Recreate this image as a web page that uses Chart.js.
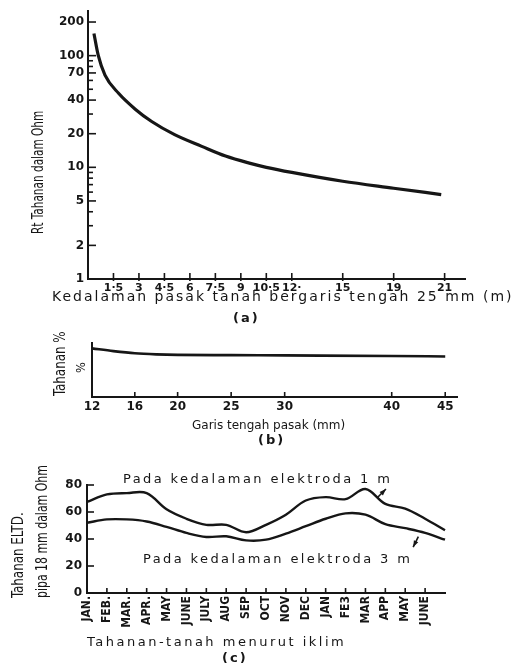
<!DOCTYPE html>
<html>
<head>
<meta charset="utf-8">
<title>Tahanan pasak tanah</title>
<script src="https://cdn.jsdelivr.net/npm/chart.js@4.4.1/dist/chart.umd.min.js"></script>
<style>
  body { margin: 0; background: #fff; }
  #page { position: relative; width: 514px; height: 663px; overflow: hidden; background: #fff; }
  canvas { position: absolute; left: 0; }
  .t { position: absolute; white-space: nowrap; color: #161616; font-family: 'DejaVu Sans', sans-serif; line-height: 1; }
  .rot { transform-origin: 0 0; transform: rotate(-90deg) scaleX(0.88); font-family: 'Liberation Sans Narrow', 'DejaVu Sans Condensed', 'Liberation Sans', sans-serif; }
</style>
</head>
<body>
<div id="page">
  <canvas id="chartA" width="514" height="330" style="top:0"></canvas>
  <canvas id="chartB" width="514" height="115" style="top:330px"></canvas>
  <canvas id="chartC" width="514" height="193" style="top:470px"></canvas>

  <div class="t rot" style="left:31px;top:234px;font-size:15px;transform:rotate(-90deg) scaleX(0.78)">Rt Tahanan dalam Ohm</div>
  <div class="t" style="left:52px;top:289px;font-size:14px;letter-spacing:2px">Kedalaman pasak tanah bergaris tengah 25 mm (m)</div>
  <div class="t" style="left:233px;top:311px;font-size:13px;font-weight:bold;letter-spacing:2px">(a)</div>

  <div class="t rot" style="left:53px;top:396px;font-size:15px">Tahanan %</div>
  <div class="t rot" style="left:74px;top:373px;font-size:13px;font-family:'DejaVu Sans',sans-serif">%</div>
  <div class="t" style="left:192px;top:419px;font-size:12px">Garis tengah pasak (mm)</div>
  <div class="t" style="left:258px;top:433px;font-size:13px;font-weight:bold;letter-spacing:2px">(b)</div>

  <div class="t" style="left:123px;top:472px;font-size:13px;letter-spacing:2.4px">Pada kedalaman elektroda 1 m</div>
  <div class="t" style="left:143px;top:552px;font-size:13px;letter-spacing:2.4px">Pada kedalaman elektroda 3 m</div>
  <div class="t rot" style="left:11px;top:598px;font-size:15px">Tahanan ELTD.</div>
  <div class="t rot" style="left:35px;top:598px;font-size:15px;transform:rotate(-90deg) scaleX(0.81)">pipa 18 mm dalam Ohm</div>
  <div class="t" style="left:87px;top:635px;font-size:13px;letter-spacing:2.5px">Tahanan-tanah menurut iklim</div>
  <div class="t" style="left:222px;top:651px;font-size:13px;font-weight:bold;letter-spacing:2px">(c)</div>
</div>
<script>
  // (a) tahanan terhadap kedalaman pasak
  var depthA = [0.35, 0.6, 1.0, 1.8, 2.8, 3.75, 5.1, 6.7, 8.1, 9.5, 10.5, 12, 15, 18, 20.8];
  var rtA = [158, 101, 67, 46, 33, 25.7, 19.6, 15.4, 12.6, 10.9, 10.0, 9.0, 7.5, 6.5, 5.7];
  var xTicksA = [1.5, 3, 4.5, 6, 7.5, 9, 10.5, 12, 15, 18, 21];
  var xLabelsA = ['1·5', '3', '4·5', '6', '7·5', '9', '10·5', '12·', '15', '19', '21'];
  var yTicksA = [1, 2, 3, 4, 5, 6, 7, 8, 9, 10, 20, 30, 40, 50, 60, 70, 80, 90, 100, 200];
  var yLabelsA = [1, 2, 5, 10, 20, 40, 70, 100, 200];

  // (b) tahanan % terhadap garis tengah pasak
  var diaB = [12, 14, 16, 18, 20, 25, 30, 40, 45];
  var pctB = [90, 85, 81, 79, 78, 77.5, 77, 76, 75];
  var xTicksB = [12, 16, 20, 25, 30, 40, 45];

  // (c) tahanan menurut iklim
  var monthsC = ['JAN.', 'FEB.', 'MAR.', 'APR.', 'MAY', 'JUNE', 'JULY', 'AUG', 'SEP', 'OCT', 'NOV', 'DEC',
                 'JAN', 'FE3', 'MAR', 'APP', 'MAY', 'JUNE', ''];
  var ohm1m = [67.5, 73, 74, 74, 62, 55, 50.5, 50.5, 45, 50.5, 58, 68.5, 71, 69.5, 77, 66, 62.5, 55, 46.5];
  var ohm3m = [52, 54.5, 54.5, 53, 49, 44.5, 41.5, 42, 39, 39.5, 44, 49.5, 55, 59, 58, 51, 48, 44.5, 39.5];
  // arrows: [line index, line value, head index, head value]
  var arrowsC = [[14.58, 70.4, 15.03, 77.0], [16.66, 41.8, 16.4, 34]];

  var ink = '#161616';
  var tickFont = { family: 'DejaVu Sans', size: 12, weight: 'bold' };

  // tick marks drawn inside the axes, like the printed figure
  var innerTicks = {
    id: 'innerTicks',
    afterDatasetsDraw: function (chart, args, opts) {
      var ctx = chart.ctx, area = chart.chartArea;
      var sx = chart.scales.x, sy = chart.scales.y;
      ctx.save();
      ctx.strokeStyle = ink;
      ctx.lineWidth = 1.6;
      if (opts.x) {
        sx.ticks.forEach(function (t, i) {
          if (t.label === '') return;
          var px = sx.getPixelForTick(i);
          ctx.beginPath();
          ctx.moveTo(px, area.bottom + (opts.xOut || 0));
          ctx.lineTo(px, area.bottom - opts.x);
          ctx.stroke();
        });
      }
      if (opts.y) {
        sy.ticks.forEach(function (t, i) {
          var py = sy.getPixelForTick(i);
          var len = (t.label === '' && opts.yMinor) ? opts.yMinor : opts.y;
          ctx.beginPath();
          ctx.moveTo(area.left, py);
          ctx.lineTo(area.left + len, py);
          ctx.stroke();
        });
      }
      ctx.restore();
    }
  };

  // small arrows in (c)
  var arrows = {
    id: 'arrows',
    afterDatasetsDraw: function (chart, args, opts) {
      if (!opts.list) return;
      var ctx = chart.ctx, sx = chart.scales.x, sy = chart.scales.y;
      ctx.save();
      ctx.strokeStyle = ink;
      ctx.fillStyle = ink;
      ctx.lineWidth = 1.6;
      opts.list.forEach(function (a) {
        var x0 = sx.getPixelForValue(a[0]), y0 = sy.getPixelForValue(a[1]);
        var x1 = sx.getPixelForValue(a[2]), y1 = sy.getPixelForValue(a[3]);
        var ang = Math.atan2(y1 - y0, x1 - x0);
        ctx.beginPath();
        ctx.moveTo(x0, y0);
        ctx.lineTo(x1, y1);
        ctx.stroke();
        ctx.beginPath();
        ctx.moveTo(x1, y1);
        ctx.lineTo(x1 - 7 * Math.cos(ang - 0.35), y1 - 7 * Math.sin(ang - 0.35));
        ctx.lineTo(x1 - 7 * Math.cos(ang + 0.35), y1 - 7 * Math.sin(ang + 0.35));
        ctx.closePath();
        ctx.fill();
      });
      ctx.restore();
    }
  };

  function lineSet(xs, ys, width) {
    return {
      data: xs.map(function (x, i) { return { x: x, y: ys[i] }; }),
      borderColor: ink, borderWidth: width, pointRadius: 0, fill: false,
      cubicInterpolationMode: 'monotone'
    };
  }

  var common = {
    responsive: false,
    animation: false,
    events: []
  };

  new Chart(document.getElementById('chartA'), {
    type: 'line',
    data: { datasets: [lineSet(depthA, rtA, 3.2)] },
    options: Object.assign({}, common, {
      layout: { padding: { left: 0, right: 49, top: 10, bottom: 0 } },
      plugins: { legend: { display: false }, tooltip: { enabled: false }, innerTicks: { x: 6, xOut: 2, y: 8, yMinor: 5 } },
      scales: {
        x: {
          type: 'linear', min: 0, max: 22.2,
          afterBuildTicks: function (s) { s.ticks = xTicksA.map(function (v) { return { value: v }; }); },
          afterFit: function (s) { s.height = 51; },
          grid: { display: false, drawTicks: false },
          border: { color: ink, width: 2 },
          ticks: {
            autoSkip: false, maxRotation: 0, padding: 3, color: ink,
            font: { family: 'DejaVu Sans', size: 11, weight: 'bold' },
            callback: function (v, i) { return xLabelsA[i]; }
          }
        },
        y: {
          type: 'logarithmic', min: 1, max: 250,
          afterBuildTicks: function (s) { s.ticks = yTicksA.map(function (v) { return { value: v }; }); },
          afterFit: function (s) { s.width = 88; },
          grid: { display: false, drawTicks: false },
          border: { color: ink, width: 2 },
          ticks: {
            autoSkip: false, padding: 4, color: ink, font: tickFont,
            callback: function (v) { return yLabelsA.indexOf(v) >= 0 ? String(v) : ''; }
          }
        }
      }
    }),
    plugins: [innerTicks]
  });

  new Chart(document.getElementById('chartB'), {
    type: 'line',
    data: { datasets: [lineSet(diaB, pctB, 2.6)] },
    options: Object.assign({}, common, {
      layout: { padding: { left: 0, right: 57, top: 13, bottom: 0 } },
      plugins: { legend: { display: false }, tooltip: { enabled: false }, innerTicks: { x: 5 } },
      scales: {
        x: {
          type: 'linear', min: 12, max: 46.1,
          afterBuildTicks: function (s) { s.ticks = xTicksB.map(function (v) { return { value: v }; }); },
          afterFit: function (s) { s.height = 48; },
          grid: { display: false, drawTicks: false },
          border: { color: ink, width: 2 },
          ticks: { autoSkip: false, maxRotation: 0, padding: 3, color: ink, font: tickFont }
        },
        y: {
          min: 0, max: 100,
          afterFit: function (s) { s.width = 92; },
          grid: { display: false, drawTicks: false },
          border: { color: ink, width: 2 },
          ticks: { display: false }
        }
      }
    }),
    plugins: [innerTicks]
  });

  new Chart(document.getElementById('chartC'), {
    type: 'line',
    data: {
      labels: monthsC,
      datasets: [
        { data: ohm1m, borderColor: ink, borderWidth: 2.4, pointRadius: 0, fill: false, tension: 0.35 },
        { data: ohm3m, borderColor: ink, borderWidth: 2.4, pointRadius: 0, fill: false, tension: 0.35 }
      ]
    },
    options: Object.assign({}, common, {
      layout: { padding: { left: 0, right: 69, top: 15, bottom: 0 } },
      plugins: {
        legend: { display: false }, tooltip: { enabled: false },
        innerTicks: { x: 5, y: 7 },
        arrows: { list: arrowsC }
      },
      scales: {
        x: {
          type: 'category', offset: false,
          afterFit: function (s) { s.height = 70; },
          grid: { display: false, drawTicks: false },
          border: { color: ink, width: 2 },
          ticks: {
            autoSkip: false, minRotation: 90, maxRotation: 90, padding: 3, color: ink,
            font: { family: "'Liberation Sans Narrow', 'DejaVu Sans Condensed', sans-serif", size: 12, weight: 'bold' }
          }
        },
        y: {
          min: 0, max: 80,
          afterFit: function (s) { s.width = 87; },
          grid: { display: false, drawTicks: false },
          border: { color: ink, width: 2 },
          ticks: { stepSize: 10, padding: 5, color: ink, font: tickFont }
        }
      }
    }),
    plugins: [innerTicks, arrows]
  });
</script>
</body>
</html>
